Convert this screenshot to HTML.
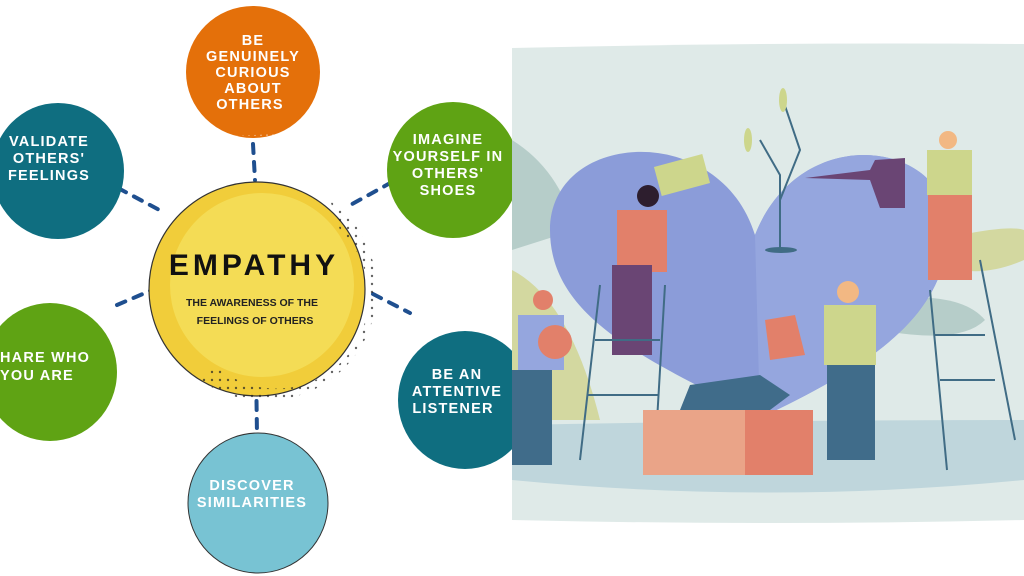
<!DOCTYPE html>
<html><head><meta charset="utf-8"><style>
html,body{margin:0;padding:0;background:#fff;width:1024px;height:576px;overflow:hidden}
svg{display:block}
.t{font-family:"Liberation Sans",sans-serif;font-weight:bold;fill:#fff;font-size:14.5px;letter-spacing:1.2px;text-anchor:middle}
</style></head><body>
<svg width="1024" height="576" viewBox="0 0 1024 576" xmlns="http://www.w3.org/2000/svg">
<defs>
<pattern id="dw" width="6" height="6" patternUnits="userSpaceOnUse"><circle cx="3" cy="3" r="1" fill="#fff" opacity=".8"/></pattern>
<pattern id="dk" width="8" height="8" patternUnits="userSpaceOnUse"><circle cx="4" cy="4" r="1.2" fill="#222"/></pattern>
</defs>
<g stroke="#1f4f8f" stroke-width="4" stroke-dasharray="9 9" stroke-linecap="round" fill="none">
<line x1="253" y1="144" x2="255" y2="180"/>
<line x1="118" y1="188" x2="165" y2="213"/>
<line x1="392" y1="182" x2="345" y2="208"/>
<line x1="117" y1="305" x2="152" y2="290"/>
<line x1="373" y1="294" x2="410" y2="313"/>
<line x1="256" y1="365" x2="257" y2="435"/>
</g>
<ellipse cx="253" cy="72" rx="67" ry="66" fill="#e4700a"/>
<path d="M300 26 A67 66 0 0 1 280 134 L 230 136 A67 66 0 0 0 300 26Z" fill="url(#dw)" opacity=".6"/>
<ellipse cx="58" cy="171" rx="66" ry="68" fill="#0f6e80"/>
<ellipse cx="453" cy="170" rx="66" ry="68" fill="#5fa314"/>
<ellipse cx="50" cy="372" rx="67" ry="69" fill="#5fa314"/>
<ellipse cx="465" cy="400" rx="67" ry="69" fill="#0f6e80"/>
<ellipse cx="258" cy="503" rx="70" ry="70" fill="#78c3d3" stroke="#333" stroke-width="1"/>
<ellipse cx="257" cy="289" rx="108" ry="107" fill="#f1cd3a" stroke="#333" stroke-width="1.2"/>
<ellipse cx="262" cy="285" rx="92" ry="92" fill="#f4dc55"/>
<path d="M330 200 A108 107 0 0 1 200 380 L215 365 A92 92 0 0 0 340 230Z" fill="url(#dk)" opacity=".7"/>
<text class="t"><tspan x="253" y="45">BE</tspan><tspan x="253" dy="16">GENUINELY</tspan><tspan x="253" dy="16">CURIOUS</tspan><tspan x="253" dy="16">ABOUT</tspan><tspan x="250" dy="16">OTHERS</tspan></text>
<text class="t"><tspan x="49" y="146">VALIDATE</tspan><tspan x="49" dy="17">OTHERS'</tspan><tspan x="49" dy="17">FEELINGS</tspan></text>
<text class="t"><tspan x="448" y="144">IMAGINE</tspan><tspan x="448" dy="17">YOURSELF IN</tspan><tspan x="448" dy="17">OTHERS'</tspan><tspan x="448" dy="17">SHOES</tspan></text>
<text class="t" style="text-anchor:start"><tspan x="0" y="362">HARE WHO</tspan><tspan x="0" dy="18">YOU ARE</tspan></text>
<text class="t"><tspan x="457" y="379">BE AN</tspan><tspan x="457" dy="17">ATTENTIVE</tspan><tspan x="453" dy="17">LISTENER</tspan></text>
<text class="t"><tspan x="252" y="490">DISCOVER</tspan><tspan x="252" dy="17">SIMILARITIES</tspan></text>
<text x="254" y="275" style="font-family:'Liberation Sans',sans-serif;font-weight:bold;font-size:30px;letter-spacing:4px;text-anchor:middle" fill="#111">EMPATHY</text>
<text style="font-family:'Liberation Sans',sans-serif;font-weight:bold;font-size:10.5px;text-anchor:middle" fill="#222"><tspan x="252" y="306">THE AWARENESS OF THE</tspan><tspan x="255" dy="18">FEELINGS OF OTHERS</tspan></text>

<path d="M512 48 Q770 42 1024 44 L1024 520 Q770 526 512 520Z" fill="#dfeae8"/>
<path d="M512 140 Q560 170 575 230 L512 250Z" fill="#b6cdc9"/>
<path d="M512 270 Q570 300 600 420 L512 420Z" fill="#d3d8a0"/>
<path d="M960 235 Q1010 225 1024 230 L1024 260 Q990 275 960 270Z" fill="#d3d8a0"/>
<path d="M880 300 Q960 290 985 320 Q960 345 880 330Z" fill="#b6cdc9"/>
<path d="M512 425 Q770 420 1024 420 L1024 480 Q770 505 512 480Z" fill="#bfd6dc"/>
<path d="M755 235 C720 120 550 130 550 230 C550 320 650 360 760 418 C860 370 950 320 948 225 C945 140 800 120 755 235Z" fill="#8b9cd9"/>
<path d="M755 235 C800 120 945 140 948 225 C950 320 860 370 760 418Z" fill="#95a6de"/>
<path d="M780 250 L780 175 L760 140 M780 200 L800 150 L783 100" stroke="#406c85" stroke-width="2" fill="none"/>
<ellipse cx="781" cy="250" rx="16" ry="3" fill="#406c85"/>
<ellipse cx="783" cy="100" rx="4" ry="12" fill="#cdd68c"/><ellipse cx="748" cy="140" rx="4" ry="12" fill="#cdd68c"/>
<rect x="657" y="160" width="50" height="30" fill="#cdd68c" transform="rotate(-15 682 175)"/>
<circle cx="648" cy="196" r="11" fill="#2d1e2e"/>
<rect x="617" y="210" width="50" height="62" fill="#e2806a"/>
<rect x="612" y="265" width="40" height="90" fill="#6a4574"/>
<path d="M580 460 L600 285 M655 455 L665 285 M595 340 L660 340 M588 395 L658 395" stroke="#406c85" stroke-width="2" fill="none"/>
<path d="M930 290 L947 470 M980 260 L1015 440 M935 335 L985 335 M940 380 L995 380" stroke="#406c85" stroke-width="2" fill="none"/>
<circle cx="948" cy="140" r="9" fill="#f2b883"/>
<rect x="927" y="150" width="45" height="45" fill="#cdd68c"/>
<rect x="928" y="195" width="44" height="85" fill="#e2806a"/>
<path d="M805 178 L870 170 L875 160 L905 158 L905 208 L880 208 L870 180 Z" fill="#6a4574"/>
<circle cx="848" cy="292" r="11" fill="#f2b883"/>
<rect x="824" y="305" width="52" height="60" fill="#cdd68c"/>
<rect x="827" y="365" width="48" height="95" fill="#406c8a"/>
<path d="M765 320 L795 315 L805 355 L770 360Z" fill="#e2806a"/>
<circle cx="543" cy="300" r="10" fill="#e2806a"/>
<rect x="518" y="315" width="46" height="55" fill="#95a6de"/>
<circle cx="555" cy="342" r="17" fill="#e2806a"/>
<rect x="512" y="370" width="40" height="95" fill="#406c8a"/>
<path d="M690 385 L760 375 L790 395 L770 410 L680 410Z" fill="#406c8a"/>
<rect x="643" y="410" width="170" height="65" fill="#eaa488"/>
<rect x="745" y="410" width="68" height="65" fill="#e2806a"/>
</svg>
</body></html>
